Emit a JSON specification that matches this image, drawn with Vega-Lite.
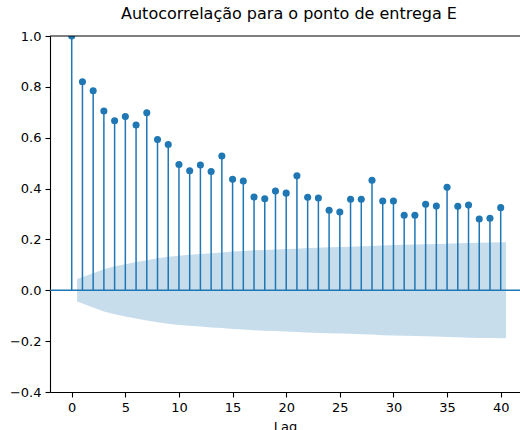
{
  "$schema": "https://vega.github.io/schema/vega-lite/v6.json",
  "width": 470,
  "height": 356,
  "autosize": {"type": "none"},
  "padding": {"left": 50, "top": 36, "right": 0, "bottom": 38},
  "config": {
    "font": "DejaVu Sans",
    "view": {"stroke": null},
    "axis": {"grid": false, "domainColor": "#000000", "tickColor": "#000000", "labelColor": "#000000", "titleColor": "#000000", "labelFontSize": 13, "titleFontSize": 13, "titleFontWeight": "normal", "tickSize": 5, "labelPadding": 4, "domainWidth": 1.1, "tickWidth": 1.1}
  },
  "title": {"text": "Autocorrelação para o ponto de entrega E", "fontSize": 16, "fontWeight": "normal", "color": "#000000", "anchor": "middle", "dx": 4, "offset": 8},
  "datasets": {
    "acf": [
      {"lag": 0, "r": 1.0}, {"lag": 1, "r": 0.82}, {"lag": 2, "r": 0.785}, {"lag": 3, "r": 0.705},
      {"lag": 4, "r": 0.667}, {"lag": 5, "r": 0.683}, {"lag": 6, "r": 0.65}, {"lag": 7, "r": 0.698},
      {"lag": 8, "r": 0.593}, {"lag": 9, "r": 0.573}, {"lag": 10, "r": 0.495}, {"lag": 11, "r": 0.47},
      {"lag": 12, "r": 0.493}, {"lag": 13, "r": 0.467}, {"lag": 14, "r": 0.528}, {"lag": 15, "r": 0.437},
      {"lag": 16, "r": 0.43}, {"lag": 17, "r": 0.367}, {"lag": 18, "r": 0.36}, {"lag": 19, "r": 0.39},
      {"lag": 20, "r": 0.382}, {"lag": 21, "r": 0.45}, {"lag": 22, "r": 0.366}, {"lag": 23, "r": 0.363},
      {"lag": 24, "r": 0.315}, {"lag": 25, "r": 0.308}, {"lag": 26, "r": 0.358}, {"lag": 27, "r": 0.358},
      {"lag": 28, "r": 0.433}, {"lag": 29, "r": 0.351}, {"lag": 30, "r": 0.351}, {"lag": 31, "r": 0.295},
      {"lag": 32, "r": 0.295}, {"lag": 33, "r": 0.338}, {"lag": 34, "r": 0.331}, {"lag": 35, "r": 0.405},
      {"lag": 36, "r": 0.33}, {"lag": 37, "r": 0.335}, {"lag": 38, "r": 0.28}, {"lag": 39, "r": 0.283},
      {"lag": 40, "r": 0.325}
    ],
    "band": [
      {"x": 0.5, "lo": -0.044, "hi": 0.044}, {"x": 2, "lo": -0.0674, "hi": 0.0674}, {"x": 3, "lo": -0.0832, "hi": 0.0832},
      {"x": 4, "lo": -0.0941, "hi": 0.0941}, {"x": 5, "lo": -0.1028, "hi": 0.1028}, {"x": 6, "lo": -0.1112, "hi": 0.1112},
      {"x": 7, "lo": -0.1184, "hi": 0.1184}, {"x": 8, "lo": -0.1261, "hi": 0.1261}, {"x": 9, "lo": -0.1314, "hi": 0.1314},
      {"x": 10, "lo": -0.1361, "hi": 0.1361}, {"x": 11, "lo": -0.1396, "hi": 0.1396}, {"x": 12, "lo": -0.1426, "hi": 0.1426},
      {"x": 13, "lo": -0.1459, "hi": 0.1459}, {"x": 14, "lo": -0.1487, "hi": 0.1487}, {"x": 15, "lo": -0.1523, "hi": 0.1523},
      {"x": 16, "lo": -0.1547, "hi": 0.1547}, {"x": 17, "lo": -0.157, "hi": 0.157}, {"x": 18, "lo": -0.1587, "hi": 0.1587},
      {"x": 19, "lo": -0.1602, "hi": 0.1602}, {"x": 20, "lo": -0.1621, "hi": 0.1621}, {"x": 21, "lo": -0.1638, "hi": 0.1638},
      {"x": 22, "lo": -0.1662, "hi": 0.1662}, {"x": 23, "lo": -0.1677, "hi": 0.1677}, {"x": 24, "lo": -0.1692, "hi": 0.1692},
      {"x": 25, "lo": -0.1704, "hi": 0.1704}, {"x": 26, "lo": -0.1714, "hi": 0.1714}, {"x": 27, "lo": -0.1729, "hi": 0.1729},
      {"x": 28, "lo": -0.1743, "hi": 0.1743}, {"x": 29, "lo": -0.1764, "hi": 0.1764}, {"x": 30, "lo": -0.1777, "hi": 0.1777},
      {"x": 31, "lo": -0.1791, "hi": 0.1791}, {"x": 32, "lo": -0.18, "hi": 0.18}, {"x": 33, "lo": -0.1809, "hi": 0.1809},
      {"x": 34, "lo": -0.1821, "hi": 0.1821}, {"x": 35, "lo": -0.1833, "hi": 0.1833}, {"x": 36, "lo": -0.185, "hi": 0.185},
      {"x": 37, "lo": -0.1862, "hi": 0.1862}, {"x": 38, "lo": -0.1873, "hi": 0.1873}, {"x": 39, "lo": -0.1881, "hi": 0.1881},
      {"x": 40.5, "lo": -0.1889, "hi": 0.1889}
    ]
  },
  "layer": [
    {
      "data": {"name": "acf"},
      "mark": {"type": "rule", "color": "#1f77b4", "strokeWidth": 1.5, "clip": true},
      "encoding": {
        "x": {"field": "lag", "type": "quantitative", "scale": {"domain": [-2.025, 41.8], "nice": false, "zero": false},
              "axis": {"values": [0, 5, 10, 15, 20, 25, 30, 35, 40], "title": "Lag", "titlePadding": 6}},
        "y": {"field": "r", "type": "quantitative", "scale": {"domain": [-0.4, 1.0], "nice": false},
              "axis": {"values": [-0.4, -0.2, 0, 0.2, 0.4, 0.6, 0.8, 1.0], "format": ".1f", "labelExpr": "replace(datum.label, '-', '\u2212')", "title": null}},
        "y2": {"datum": 0}
      }
    },
    {
      "data": {"name": "band"},
      "mark": {"type": "area", "color": "#1f77b4", "opacity": 0.25, "clip": true},
      "encoding": {
        "x": {"field": "x", "type": "quantitative"},
        "y": {"field": "lo", "type": "quantitative"},
        "y2": {"field": "hi"}
      }
    },
    {
      "data": {"values": [{}]},
      "mark": {"type": "rule", "color": "#1f77b4", "strokeWidth": 1.5},
      "encoding": {"y": {"datum": 0}}
    },
    {
      "data": {"name": "acf"},
      "mark": {"type": "point", "filled": true, "shape": "circle", "size": 50, "color": "#1f77b4", "opacity": 1, "clip": true},
      "encoding": {
        "x": {"field": "lag", "type": "quantitative"},
        "y": {"field": "r", "type": "quantitative"}
      }
    },
    {
      "data": {"values": [{}]},
      "mark": {"type": "rule", "color": "#000000", "strokeWidth": 1.1},
      "encoding": {"y": {"datum": 1.0}}
    }
  ]
}
